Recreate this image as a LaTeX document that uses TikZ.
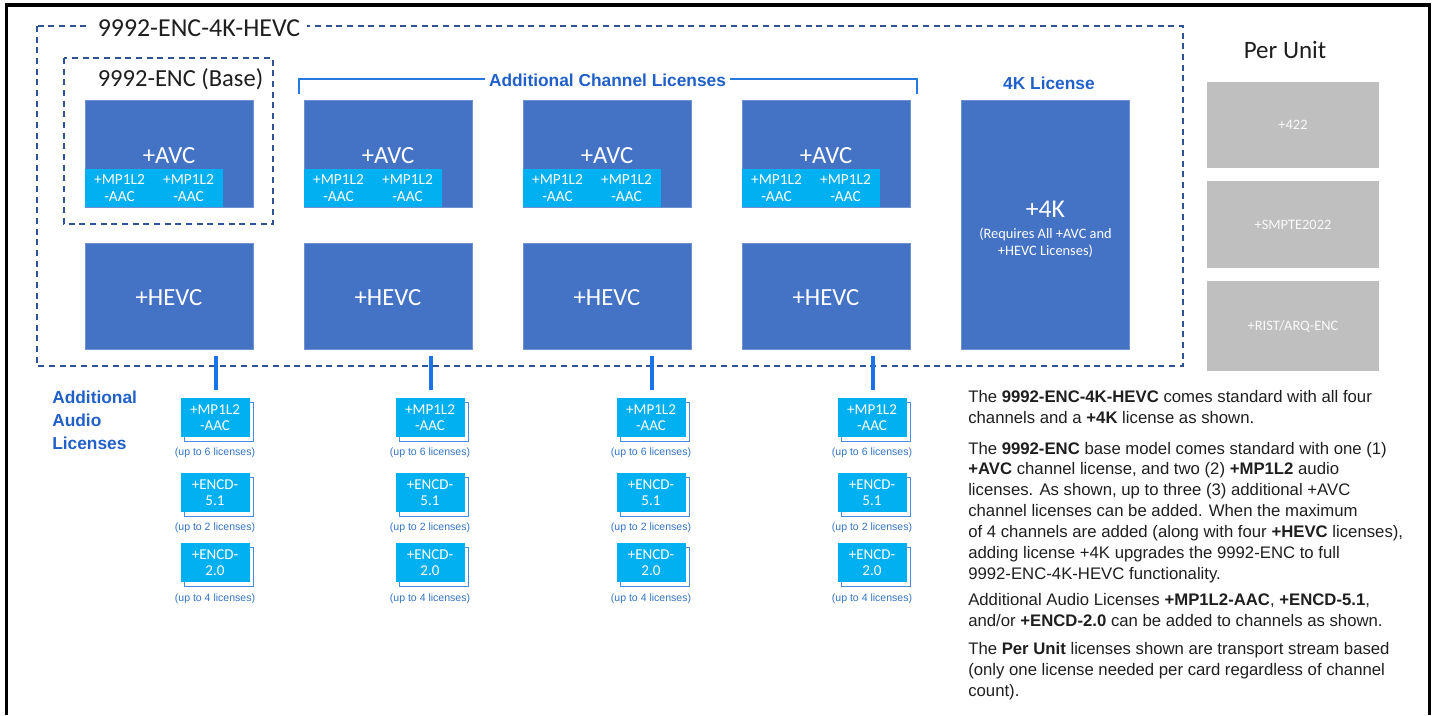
\documentclass[tikz,border=0pt]{standalone}
\usepackage{fontspec}
\setmainfont{Carlito}
\newfontfamily\arial{Liberation Sans}
\usetikzlibrary{shadows}
\definecolor{boxblue}{RGB}{68,114,196}
\definecolor{boxedge}{RGB}{110,145,210}
\definecolor{cyanbox}{RGB}{0,176,240}
\definecolor{graybox}{RGB}{191,191,191}
\definecolor{labelblue}{RGB}{32,96,200}
\definecolor{brkblue}{RGB}{40,120,225}
\definecolor{stubblue}{RGB}{26,115,232}
\definecolor{dashblue}{RGB}{47,84,150}
\definecolor{capblue}{RGB}{50,115,195}
\definecolor{shadblue}{RGB}{70,140,225}
\definecolor{txt}{RGB}{30,30,30}
\definecolor{graytext}{RGB}{250,250,250}
\begin{document}
\begin{tikzpicture}[x=0.75pt,y=-0.75pt,
  chanbox/.style={draw=boxedge, line width=0.5pt, fill=boxblue, text=white, inner sep=0pt, outer sep=0pt, anchor=north west, minimum width=126pt, text height=14.9pt, text depth=0pt, font=\fontsize{18.5}{20}\selectfont},
  subbox/.style={fill=cyanbox, inner sep=0pt, outer sep=0pt, anchor=south west, minimum width=103.5pt, minimum height=28.5pt},
  subtext/.style={text=white, align=center, inner sep=0pt, font=\fontsize{11.5}{12.75}\selectfont},
  audbox/.style={fill=cyanbox, text=white, inner sep=0pt, align=center, minimum width=51.75pt, minimum height=29.25pt, font=\fontsize{11.3}{12}\selectfont, copy shadow={shadow xshift=3pt, shadow yshift=-3pt, fill=white, draw=shadblue, line width=0.6pt}},
  captext/.style={text=capblue, inner sep=0pt, font=\arial\fontsize{7.9}{9}\selectfont},
  dashbox/.style={draw=dashblue, line width=1.1pt, dash pattern=on 4.5pt off 3.5pt},
  perbox/.style={fill=graybox, text=graytext, inner sep=0pt, outer sep=0pt, anchor=north west, minimum width=129pt, font=\fontsize{10.8}{12}\selectfont},
  bluelabel/.style={text=labelblue, font=\arial\bfseries\fontsize{13}{17.25}\selectfont, inner sep=0pt},
  stubline/.style={draw=stubblue, line width=3.4pt},
  bracketline/.style={draw=brkblue, line width=1.9pt}
]
\useasboundingbox (0,0) rectangle (1432,715);
% frame
\draw[line width=2.6pt, black] (6.5,715) -- (6.5,5) -- (1429.5,5) -- (1429.5,715);

% outer dashed box and title
\draw[dashbox] (37,26) rectangle (1183,366);
\node[fill=white, inner xsep=5pt, inner ysep=1pt, text=txt, font=\fontsize{19.4}{22}\selectfont] (title) at (199,28) {9992-ENC-4K-HEVC};

% base dashed box
\draw[dashbox] (64,58) rectangle (273,224);
\node[text=txt, inner sep=0pt, font=\fontsize{18.4}{22}\selectfont] (basetitle) at (180.5,79) {9992-ENC (Base)};

% bracket
\coordinate (bl) at (299,94);
\coordinate (br) at (917,94);
\draw[bracketline] (bl) -- (299,79) -- (917,79) -- (br);
\node[bluelabel, fill=white, inner xsep=3pt, inner ysep=1pt] (addch) at (607.5,80) {Additional Channel Licenses};

% channels
\foreach \i/\x/\c in {1/85/215,2/304/430,3/523/651,4/742/872}{
  \node[chanbox, minimum height=80.25pt] (avc\i) at (\x,100) {+AVC};
  \node[subbox] (sub\i) at (avc\i.south west) {};
  \node[subtext] (sa\i) at (\x+34.5,188.5) {+MP1L2\\-AAC};
  \node[subtext] (sb\i) at (\x+103.5,188.5) {+MP1L2\\-AAC};
  \node[chanbox, minimum height=79.5pt] (hevc\i) at (\x,243) {+HEVC};
  \coordinate (st\i) at (\c+1,356);
  \coordinate (se\i) at (\c+1,390);
  \draw[stubline] (st\i) -- (se\i);
  \node[audbox] (m\i) at (\c,417.5) {+MP1L2\\-AAC};
  \node[captext] (cm\i) at (\c,453) {(up to 6 licenses)};
  \node[audbox] (f\i) at (\c,492.5) {+ENCD-\\5.1};
  \node[captext] (cf\i) at (\c,527.5) {(up to 2 licenses)};
  \node[audbox] (t\i) at (\c,562.5) {+ENCD-\\2.0};
  \node[captext] (ct\i) at (\c,598.5) {(up to 4 licenses)};
}

% 4K license
\node[bluelabel] (k4lab) at (1049,83) {4K License};
\node[chanbox, minimum height=186.75pt] (k4) at (961,100) {};
\node[text=white, inner sep=0pt, align=center, font=\fontsize{10.8}{12.75}\selectfont] (k4text) at (1045.5,229.5)
  {{\fontsize{19.2}{22}\selectfont +4K}\\[3pt](Requires All +AVC and\\+HEVC Licenses)};

% additional audio licenses label
\node[bluelabel, align=left, anchor=west] (addaud) at (52,420) {Additional\\Audio\\Licenses};

% per unit
\node[text=txt, inner sep=0pt, font=\fontsize{18.75}{22}\selectfont] (perunit) at (1285,50) {Per Unit};
\node[perbox, minimum height=64.5pt] (p1) at (1207,82) {+422};
\node[perbox, minimum height=65.25pt] (p2) at (1207,181) {+SMPTE2022};
\node[perbox, minimum height=67.5pt] (p3) at (1207,281) {+RIST/ARQ-ENC};

% description text
\node[anchor=north west, inner sep=0pt, align=left, text=txt, font=\arial\fontsize{12.55}{15.7}\selectfont] (desc) at (968,390)
{The \textbf{9992-ENC-4K-HEVC} comes standard with all four\\
channels and a \textbf{+4K} license as shown.\\[7.3pt]
The \textbf{9992-ENC} base model comes standard with one (1)\\
\textbf{+AVC} channel license, and two (2) \textbf{+MP1L2} audio\\
licenses. As shown, up to three (3) additional +AVC\\
channel licenses can be added. When the maximum\\
of 4 channels are added (along with four \textbf{+HEVC} licenses),\\
adding license +4K upgrades the 9992-ENC to full\\
9992-ENC-4K-HEVC functionality.\\[3.8pt]
Additional Audio Licenses \textbf{+MP1L2-AAC}, \textbf{+ENCD-5.1},\\
and/or \textbf{+ENCD-2.0} can be added to channels as shown.\\[5.3pt]
The \textbf{Per Unit} licenses shown are transport stream based\\
(only one license needed per card regardless of channel\\
count).};
\end{tikzpicture}
\end{document}
